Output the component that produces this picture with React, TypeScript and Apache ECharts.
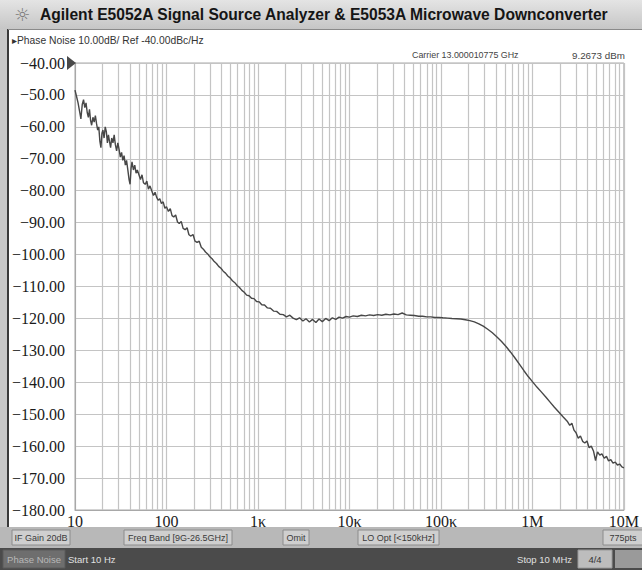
import React, { useEffect, useRef } from "react";
import * as echarts from "echarts";

// X axis decade labels (10 Hz .. 10 MHz)
const xTickLabels = ["10", "100", "1κ", "10κ", "100κ", "1M", "10M"];
const decadeStarts = [10, 100, 1000, 10000, 100000, 1000000];
const minorMultipliers = [2, 3, 4, 5, 6, 7, 8, 9];
const yMin = -180;
const yMax = -40;

// Phase noise trace, [offset frequency Hz, dBc/Hz]
const lowBand: [number, number][] = [
  [10, -48.5], [10.4, -50.5], [10.8, -52.5], [11.2, -55], [11.6, -57.5], [12, -53], [12.4, -51.5],
  [12.8, -54], [13.2, -52.5], [13.6, -55.5], [14, -57], [14.4, -54.5], [14.8, -58], [15.2, -59.5],
  [15.7, -57], [16.2, -58.5], [16.7, -56.5], [17.2, -59], [17.7, -61], [18.2, -60], [18.7, -64.5],
  [19.2, -66.5], [19.7, -62], [20.2, -61], [20.8, -63.5], [21.4, -60], [22, -61.5], [22.6, -65],
  [23.2, -62.5], [23.8, -64.5], [24.5, -66.5], [25.2, -63.5], [26, -65], [26.8, -62.5], [27.6, -65.5],
  [28.5, -67.5], [29.4, -65], [30.3, -67], [31.3, -69.5], [32.3, -68], [33.3, -70.5], [34.4, -69],
  [35.5, -72], [36.6, -70.5], [37.8, -73.5], [39, -76.5], [40, -78], [41, -73], [42, -71],
  [43.5, -73.5], [45, -72], [46.5, -74.5], [48, -73.5], [50, -75], [52, -76.5], [54, -75],
  [56, -77.5], [58.5, -78], [61, -77], [63.5, -79.5], [66, -78.5], [69, -80], [72, -81.5],
  [75, -80.5], [78, -82], [81, -83], [84.5, -82.5], [88, -84], [92, -83.5], [96, -85.5], [100, -85],
];

const midBand: [number, number][] = [
  [105, -86.5], [110, -85.6], [115, -87.8], [120, -88.2], [126, -87.6], [132, -89.8], [138, -90.3],
  [145, -89.6], [152, -91.8], [160, -92.2], [168, -91.6], [176, -93.8], [185, -94.2], [195, -93.7],
  [205, -95.8], [216, -96.2], [228, -95.8], [240, -97.7], [253, -98.3], [267, -99.2], [282, -99.8],
  [298, -100.7], [315, -101.3], [333, -102.2], [352, -102.8], [372, -103.7], [394, -104.3], [417, -105.2],
  [442, -105.8], [468, -106.7], [496, -107.3], [526, -108.2], [558, -108.8], [592, -109.7], [628, -110.3],
  [667, -111.2], [708, -111.8], [752, -112.7], [800, -112.9], [850, -113.7], [905, -113.8], [965, -114.7],
  [1030, -114.8], [1100, -115.7], [1180, -115.8], [1270, -116.7], [1370, -116.8], [1480, -117.7],
  [1600, -117.8], [1740, -118.7], [1890, -118.8], [2050, -119.5], [2230, -119.0], [2420, -119.9],
  [2630, -120.4], [2850, -119.8], [3100, -120.8], [3350, -120.1], [3650, -121.1], [3950, -120.3],
  [4300, -121.3], [4650, -120.2], [5050, -121.0], [5500, -120.0], [6000, -120.7], [6500, -119.8],
  [7100, -120.3], [7700, -119.6], [8400, -119.9], [9200, -119.4], [10000, -119.6], [11000, -119.2],
  [12200, -119.4], [13500, -119], [15000, -119.2], [16600, -118.9], [18400, -119.1], [20400, -118.8],
  [22600, -119], [25000, -118.7], [27700, -118.9], [30700, -118.6], [34000, -118.8], [37700, -118.3],
  [41800, -118.9], [46300, -119], [51300, -119.1], [56900, -119.3], [63000, -119.3], [70000, -119.5],
  [77500, -119.5], [86000, -119.7], [95000, -119.7],
];

const highBand: [number, number][] = [
  [105000, -119.8], [118000, -119.9], [132000, -120], [148000, -120.1], [165000, -120.2],
  [185000, -120.4], [207000, -120.7], [232000, -121.1], [260000, -121.7], [290000, -122.4],
  [325000, -123.4], [365000, -124.5], [410000, -125.8], [460000, -127.2], [515000, -128.8],
  [575000, -130.5], [645000, -132.4], [720000, -134.3], [805000, -136.3], [900000, -138.2],
  [1000000, -139.8], [1120000, -141.5], [1250000, -143], [1400000, -144.6], [1560000, -146.2],
  [1740000, -147.8], [1940000, -149.3], [2160000, -150.8], [2400000, -152.2], [2560000, -153.5],
  [2700000, -152.8], [2850000, -155], [3000000, -155.8], [3170000, -157.5], [3350000, -156.8],
  [3540000, -158.5], [3740000, -159], [3950000, -158.4], [4170000, -160.5], [4400000, -160],
  [4650000, -161.5], [4900000, -164.5], [5150000, -161.8], [5450000, -162.8], [5750000, -162.4],
  [6100000, -163.8], [6450000, -163.2], [6800000, -164.6], [7200000, -164.2], [7600000, -165.3],
  [8050000, -165], [8500000, -165.9], [9000000, -165.6], [9500000, -166.5], [10000000, -166.8],
];

const titleText = "Agilent E5052A Signal Source Analyzer & E5053A Microwave Downconverter";
const traceInfo = "▸Phase Noise 10.00dB/ Ref -40.00dBc/Hz";
const carrierText = "Carrier 13.000010775 GHz";
const powerText = "9.2673 dBm";
const softkeys = [
  { label: "IF Gain 20dB", x: 12, w: 58 },
  { label: "Freq Band [9G-26.5GHz]", x: 124, w: 108 },
  { label: "Omit", x: 283, w: 26 },
  { label: "LO Opt [<150kHz]", x: 358, w: 81 },
  { label: "775pts", x: 603, w: 40 },
];

const SANS = "'Liberation Sans', Arial, sans-serif";
const SERIF = "'Liberation Serif', 'Times New Roman', serif";
const fmtY = (v: number) => (v < 0 ? "\u2212" : "") + Math.abs(v).toFixed(2);

const GRID = { left: 75, top: 63, width: 558, height: 447 };
const Y_LABEL_MARGIN = 10;

function buildOption(): any {
  const trace = [...lowBand, ...midBand, ...highBand];
  const minorLines: { xAxis: number }[] = [];
  decadeStarts.forEach((d) => minorMultipliers.forEach((m) => minorLines.push({ xAxis: d * m })));

  const txt = (x: number, y: number, text: string, font: string, fill: string, align = "left") => ({
    type: "text",
    x,
    y,
    z: 20,
    silent: true,
    style: { text, font, fill, textAlign: align, textVerticalAlign: "middle", align, verticalAlign: "middle" },
  });

  const graphics: any[] = [
    {
      type: "rect", z: -10, silent: true,
      shape: { x: 0, y: 0, width: 642, height: 29 },
      style: {
        fill: new echarts.graphic.LinearGradient(0, 0, 0, 1, [
          { offset: 0, color: "#e4e4e4" },
          { offset: 1, color: "#c6c6c6" },
        ]),
      },
    },
    { type: "rect", z: -9, silent: true, shape: { x: 8, y: 29, width: 634, height: 498 }, style: { fill: "#ffffff" } },
    { type: "line", z: -8, silent: true, shape: { x1: 8, y1: 29, x2: 8, y2: 527 }, style: { stroke: "#3a3a3a", lineWidth: 2 } },
    { type: "line", z: -8, silent: true, shape: { x1: 8, y1: 29.5, x2: 642, y2: 29.5 }, style: { stroke: "#8a8a8a", lineWidth: 1 } },
    txt(22, 14, "☼", "18px 'DejaVu Sans'", "#7a7a7a", "center"),
    txt(40, 14, titleText, `bold 15.6px ${SANS}`, "#151515"),
    txt(12, 40, traceInfo, `10.3px ${SANS}`, "#333333"),
    txt(412, 55, carrierText, `8.9px ${SANS}`, "#444444"),
    txt(572, 55, powerText, `9.8px ${SANS}`, "#444444"),
    { type: "polygon", z: 20, silent: true, shape: { points: [[67, 56], [76, 63], [67, 70]] }, style: { fill: "#4a4a4a" } },
    // lowest y label (the axis drops it where it meets the x axis labels)
    txt(GRID.left - Y_LABEL_MARGIN, GRID.top + GRID.height, fmtY(yMin), `16px ${SERIF}`, "#1a1a1a", "right"),
    { type: "rect", z: -9, silent: true, shape: { x: 0, y: 527, width: 642, height: 21 }, style: { fill: "#b8b8b8" } },
    { type: "rect", z: -9, silent: true, shape: { x: 0, y: 548, width: 642, height: 22 }, style: { fill: "#4b4b4b" } },
    { type: "rect", z: 10, silent: true, shape: { x: 3, y: 550, width: 62, height: 18 }, style: { fill: "#6e6e6e", stroke: "#5a5a5a" } },
    txt(34, 559, "Phase Noise", `9.5px ${SANS}`, "#b8b8b8", "center"),
    txt(68, 559, "Start 10 Hz", `9.5px ${SANS}`, "#e0e0e0"),
    txt(572, 559, "Stop 10 MHz", `9.5px ${SANS}`, "#e0e0e0", "right"),
    { type: "rect", z: 10, silent: true, shape: { x: 578, y: 550, width: 34, height: 18 }, style: { fill: "#bdbdbd", stroke: "#9a9a9a" } },
    txt(595, 559, "4/4", `9.5px ${SANS}`, "#333333", "center"),
    { type: "rect", z: 10, silent: true, shape: { x: 615, y: 550, width: 27, height: 18 }, style: { fill: "#9a9a9a" } },
  ];
  softkeys.forEach((k) => {
    graphics.push({
      type: "rect", z: 10, silent: true,
      shape: { x: k.x, y: 530, width: k.w, height: 15 },
      style: { fill: "#cfcfcf", stroke: "#8c8c8c", lineWidth: 1 },
    });
    graphics.push(txt(k.x + k.w / 2, 537.5, k.label, `9px ${SANS}`, "#3a3a3a", "center"));
  });

  return {
    animation: false,
    backgroundColor: "#c8c8c8",
    grid: {
      ...GRID,
      show: true, backgroundColor: "#ffffff", borderColor: "#a8a8a8", borderWidth: 1,
    },
    xAxis: {
      type: "log", logBase: 10, min: 10, max: 10000000, splitNumber: 6,
      axisLine: { show: true, lineStyle: { color: "#a8a8a8" } },
      axisTick: { show: false },
      splitLine: { show: true, lineStyle: { color: "#c4c4c4", width: 1.2 } },
      axisLabel: {
        margin: 3, hideOverlap: false, showMinLabel: true, showMaxLabel: true,
        fontFamily: SERIF, fontSize: 16, color: "#1a1a1a",
        formatter: (v: number) => xTickLabels[Math.round(Math.log10(v)) - 1] ?? "",
      },
    },
    yAxis: {
      type: "value", min: yMin, max: yMax, interval: 10,
      axisLine: { show: true, lineStyle: { color: "#a8a8a8" } },
      axisTick: { show: false },
      splitLine: { show: true, lineStyle: { color: "#c4c4c4", width: 1.2 } },
      axisLabel: {
        margin: Y_LABEL_MARGIN, hideOverlap: false, showMaxLabel: true,
        fontFamily: SERIF, fontSize: 16, color: "#1a1a1a",
        formatter: (v: number) => (Math.abs(v - yMin) < 1e-6 ? "" : fmtY(v)),
      },
    },
    graphic: graphics,
    series: [
      {
        type: "line", z: 1, silent: true, showSymbol: false,
        data: [[10, yMin]], lineStyle: { opacity: 0 },
        markLine: {
          silent: true, symbol: ["none", "none"], label: { show: false },
          lineStyle: { color: "#c4c4c4", width: 1.2, type: "solid" },
          emphasis: { disabled: true },
          data: minorLines,
        },
      },
      {
        type: "line", z: 5, silent: true, showSymbol: false,
        data: trace,
        lineStyle: { color: "#474747", width: 1.4 },
      },
    ],
  };
}

export default function App() {
  const ref = useRef<HTMLDivElement>(null);
  useEffect(() => {
    document.body.style.margin = "0";
    const chart = echarts.init(ref.current!, null, { renderer: "svg" });
    chart.setOption(buildOption());
    return () => chart.dispose();
  }, []);
  return <div ref={ref} style={{ position: "absolute", left: 0, top: 0, width: 642, height: 570 }} />;
}
